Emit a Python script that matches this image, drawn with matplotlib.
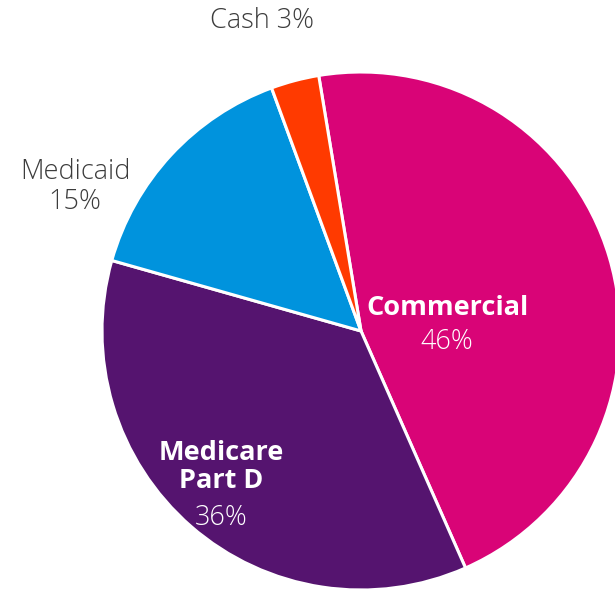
import matplotlib
matplotlib.use('Agg')
import matplotlib.pyplot as plt

labels = ['Commercial', 'Medicare\nPart D', 'Medicaid', 'Cash']
shares = [46, 36, 15, 3]
colors = ['#D90477', '#55146F', '#0093DD', '#FF3A00']

W, H = 615, 592
fig = plt.figure(figsize=(W / 100, H / 100), dpi=100)
ax = fig.add_axes([0, 0, 1, 1])

cx, cy, r = 361, H - 331, 259
ax.pie(shares, colors=colors, startangle=99.4, counterclock=False,
       center=(cx, cy), radius=r, frame=True,
       wedgeprops=dict(edgecolor='white', linewidth=2.2))
ax.set_xlim(0, W)
ax.set_ylim(0, H)
ax.set_aspect('equal')
ax.axis('off')

font = 'Open Sans'
grey = '#3c3c3c'
fs = 19.5
# outside labels
ax.text(262, H - 21, f'{labels[3]} {shares[3]}%', ha='center', va='center',
        fontsize=fs, color=grey, family=font, fontweight='light')
ax.text(75, H - 187, f'{labels[2]}\n{shares[2]}%', ha='center', va='center',
        fontsize=fs, color=grey, family=font, fontweight='light', linespacing=1.05)
# inside labels
ax.text(447, H - 308, labels[0], ha='center', va='center', fontsize=fs,
        color='white', family=font, fontweight='bold')
ax.text(447, H - 342, f'{shares[0]}%', ha='center', va='center', fontsize=fs,
        color='white', family=font, fontweight='light')
ax.text(221, H - 467, labels[1], ha='center', va='center', fontsize=fs,
        color='white', family=font, fontweight='bold', linespacing=1.05)
ax.text(221, H - 518, f'{shares[1]}%', ha='center', va='center', fontsize=fs,
        color='white', family=font, fontweight='light')

fig.savefig('out.png', dpi=100)
